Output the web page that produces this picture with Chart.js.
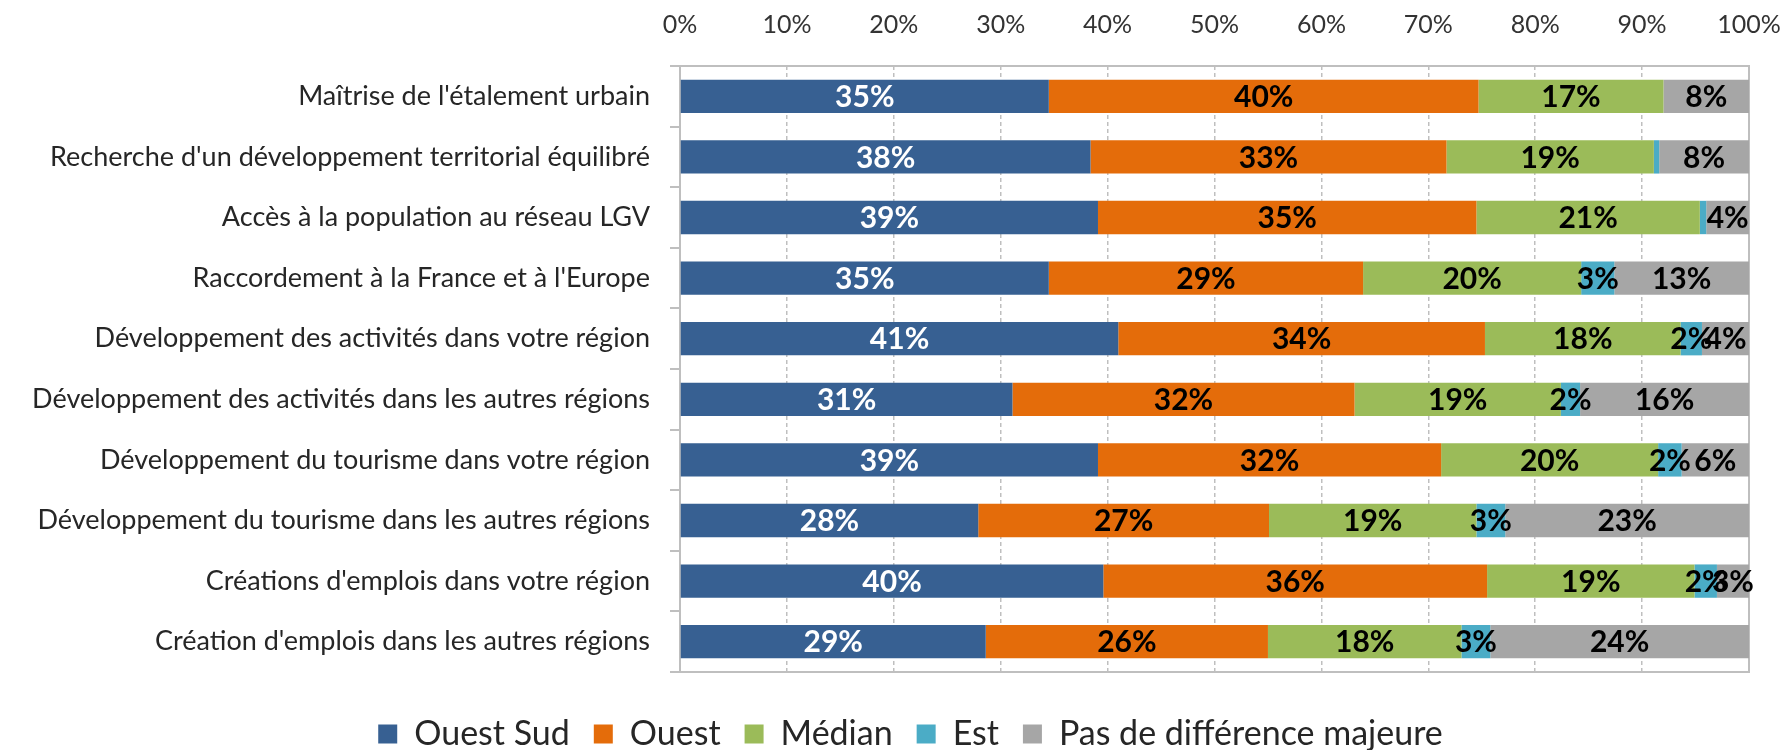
<!DOCTYPE html>
<html>
<head>
<meta charset="utf-8">
<script src="https://cdn.jsdelivr.net/npm/chart.js@4.4.1/dist/chart.umd.min.js"></script>
<style>
  html, body { margin: 0; padding: 0; background: #fff; }
  #wrap { width: 1788px; height: 750px; position: relative; }
</style>
</head>
<body>
<div id="wrap"><canvas id="chart"></canvas></div>
<script>
// données (en %)
const categories = [
    "Maîtrise de l'étalement urbain",
    "Recherche d'un développement territorial équilibré",
    "Accès à la population au réseau LGV",
    "Raccordement à la France et à l'Europe",
    "Développement des activités dans votre région",
    "Développement des activités dans les autres régions",
    "Développement du tourisme dans votre région",
    "Développement du tourisme dans les autres régions",
    "Créations d'emplois dans votre région",
    "Création d'emplois dans les autres régions",
];
const seriesNames = ['Ouest Sud', 'Ouest', 'Médian', 'Est', 'Pas de différence majeure'];
const ouestSud = [34.5, 38.4, 39.1, 34.5, 41.0, 31.1, 39.1, 27.9, 39.6, 28.6];
const ouest = [40.2, 33.3, 35.4, 29.4, 34.3, 32.0, 32.1, 27.2, 35.9, 26.4];
const median = [17.3, 19.4, 20.9, 20.4, 18.3, 19.3, 20.3, 19.4, 19.4, 18.1];
const est = [0, 0.5, 0.6, 3.1, 2.0, 1.8, 2.2, 2.7, 2.1, 2.7];
const pasDeDiff = [8.0, 8.4, 4.0, 12.6, 4.4, 15.8, 6.3, 22.8, 3.0, 24.2];
const xTickValues = [0, 10, 20, 30, 40, 50, 60, 70, 80, 90, 100];

const colors = ['#376092', '#e46c0a', '#9bbb59', '#4bacc6', '#a6a6a6'];
const labelColors = ['#ffffff', '#000000', '#000000', '#000000', '#000000'];
const FONT = 'Lato';

// cadre gris autour de la zone du graphique
const plotFrame = {
    id: 'plotFrame',
    beforeDatasetsDraw(chart) {
        const {ctx, chartArea: a} = chart;
        ctx.save();
        ctx.strokeStyle = '#bfbfbf';
        ctx.lineWidth = 2;
        ctx.strokeRect(a.left, a.top, a.width, a.height);
        ctx.restore();
    },
};

// étiquettes % au centre de chaque segment
const barLabels = {
    id: 'barLabels',
    afterDatasetsDraw(chart) {
        const {ctx} = chart;
        ctx.save();
        ctx.font = `bold 30px ${FONT}`;
        ctx.textAlign = 'center';
        ctx.textBaseline = 'middle';
        chart.data.datasets.forEach((ds, i) => {
            const meta = chart.getDatasetMeta(i);
            meta.data.forEach((bar, j) => {
                const v = ds.data[j];
                if (v < 1) return; // pas d'étiquette pour les segments < 1%
                ctx.fillStyle = labelColors[i];
                ctx.fillText(`${Math.round(v)}%`, (bar.x + bar.base) / 2, bar.y + 1);
            });
        });
        ctx.restore();
    },
};

// légende un peu décalée vers la droite, comme dans l'original
const legendShift = {
    id: 'legendShift',
    afterLayout(chart) {
        chart.legend.left += 36;
        chart.legend.right += 36;
    },
};

const seriesData = [ouestSud, ouest, median, est, pasDeDiff];

new Chart(document.getElementById('chart'), {
    type: 'bar',
    data: {
        labels: categories,
        datasets: seriesNames.map((name, i) => ({
            label: name,
            data: seriesData[i],
            backgroundColor: colors[i],
            borderWidth: 0,
            barPercentage: 1,
            categoryPercentage: 0.55,
        })),
    },
    options: {
        indexAxis: 'y',
        responsive: true,
        maintainAspectRatio: false,
        animation: false,
        layout: {padding: {top: 0, right: 39, left: 0, bottom: -11}},
        scales: {
            x: {
                position: 'top',
                stacked: true,
                min: 0,
                max: 100,
                afterBuildTicks: (scale) => {
                    scale.ticks = xTickValues.map((v) => ({value: v}));
                },
                afterFit: (scale) => {
                    scale.height = 66;
                    scale.paddingLeft = 0;
                    scale.paddingRight = 0;
                },
                grid: {color: '#bfbfbf', lineWidth: 1.5, drawTicks: false},
                border: {display: false, dash: [4, 3]},
                ticks: {
                    padding: 26,
                    color: '#333',
                    font: {family: FONT, size: 25},
                    callback: (v) => `${v}%`,
                },
            },
            y: {
                stacked: true,
                afterFit: (scale) => { scale.width = 680; },
                grid: {
                    display: true,
                    drawOnChartArea: false,
                    drawTicks: true,
                    tickLength: 10,
                    color: '#bfbfbf',
                    lineWidth: 2,
                    offset: true,
                },
                border: {display: true, color: '#bfbfbf', width: 2},
                ticks: {
                    padding: 20,
                    color: '#262626',
                    font: {family: FONT, size: 27},
                },
            },
        },
        plugins: {
            legend: {
                position: 'bottom',
                title: {display: true, text: '', padding: 0, font: {size: 17.5}},
                labels: {
                    color: '#262626',
                    font: {family: FONT, size: 34},
                    boxWidth: 19,
                    boxHeight: 19,
                    padding: 24,
                },
            },
            tooltip: {enabled: false},
        },
    },
    plugins: [plotFrame, barLabels, legendShift],
});
</script>
</body>
</html>
